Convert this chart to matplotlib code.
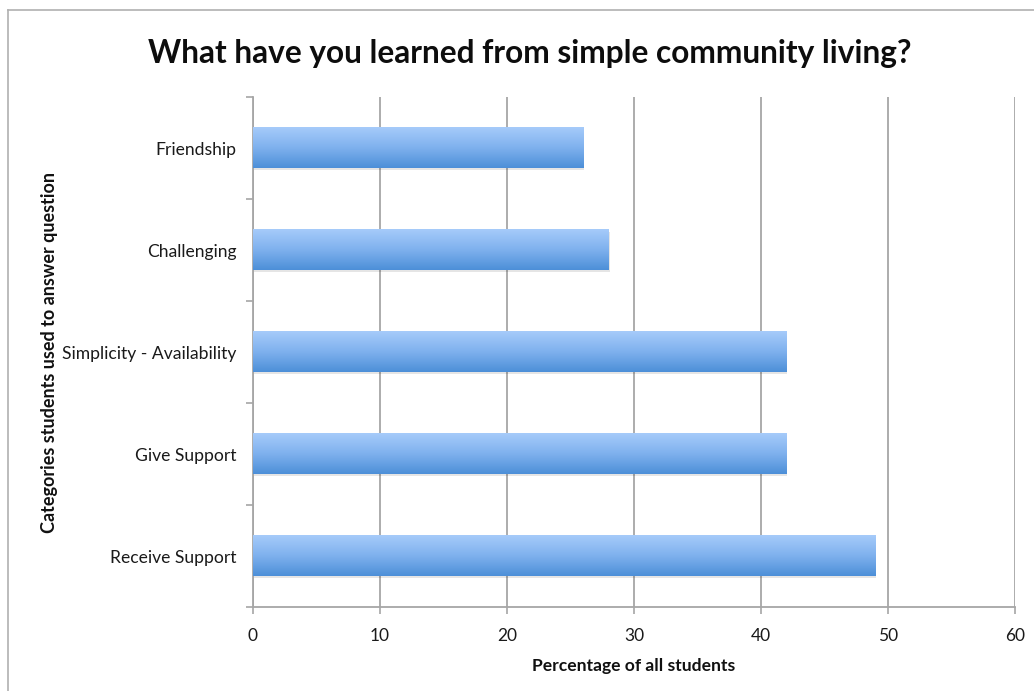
import numpy as np
import matplotlib
matplotlib.use("Agg")
import matplotlib.pyplot as plt
from matplotlib.colors import LinearSegmentedColormap
from matplotlib.lines import Line2D
from matplotlib.patches import Rectangle

categories = ["Receive Support", "Give Support", "Simplicity - Availability",
              "Challenging", "Friendship"]
percentages = [49, 42, 42, 28, 26]
x_ticks = [0, 10, 20, 30, 40, 50, 60]

plt.rcParams['font.family'] = ['Lato', 'DejaVu Sans']

fig = plt.figure(figsize=(10.34, 6.91), dpi=100)
ax = fig.add_axes([253 / 1034, 1 - 607 / 691, 762 / 1034, 510 / 691])

grid_col = "#a6a6a6"
ypos = np.arange(len(categories))
bars = ax.barh(ypos, percentages, height=0.4, color="none", edgecolor="none", zorder=3)

# vertical gradient fill for each bar, plus a faint drop shadow
grad_cmap = LinearSegmentedColormap.from_list("bar", ["#a6cbfa", "#7fb1ee", "#4c8fd8"])
grad = np.linspace(0, 1, 256).reshape(-1, 1)
for b in bars:
    x0, y0 = b.get_x(), b.get_y()
    w, h = b.get_width(), b.get_height()
    ax.add_patch(Rectangle((x0 + 0.08, y0 - 0.02), w, h, facecolor="#000000",
                           alpha=0.10, edgecolor="none", zorder=2))
    ax.imshow(grad, cmap=grad_cmap, aspect="auto", origin="upper",
              extent=(x0, x0 + w, y0, y0 + h), zorder=3, interpolation="bilinear")

ax.set_xlim(0, 60)
ax.set_ylim(-0.5, len(categories) - 0.5)

ax.set_xticks(x_ticks)
ax.set_xticklabels([str(t) for t in x_ticks], fontsize=12.5, color="#1a1a1a")
ax.set_yticks(ypos)
ax.set_yticklabels(categories, fontsize=12.6, color="#1a1a1a")
ax.set_yticks(np.arange(-0.5, len(categories)), minor=True)
ax.tick_params(axis="y", which="major", length=0, pad=12)
ax.tick_params(axis="y", which="minor", length=5, width=1.2, color=grid_col, direction="out")
ax.tick_params(axis="x", which="major", length=5, width=1.2, color=grid_col,
               direction="out", pad=10)

ax.xaxis.grid(True, color=grid_col, linewidth=1.3, zorder=0)
ax.set_axisbelow(True)
for s in ["top", "right"]:
    ax.spines[s].set_visible(False)
for s in ["left", "bottom"]:
    ax.spines[s].set_color(grid_col)
    ax.spines[s].set_linewidth(1.3)

ax.set_xlabel("Percentage of all students", fontsize=12.6, fontweight="bold",
              labelpad=10, color="#111111")
ax.set_ylabel("Categories students used to answer question", fontsize=13,
              fontweight="bold", color="#111111")
ax.yaxis.set_label_coords(-0.256, 0.5)

fig.text(530 / 1034, 1 - 53 / 691, "What have you learned from simple community living?",
         ha="center", va="center", fontsize=22.8, fontweight="bold", color="#0d0d0d")

# chart frame
fig.add_artist(Line2D([8 / 1034, 8 / 1034], [0, 1 - 10 / 691], color="#b0b0b0", lw=1.2))
fig.add_artist(Line2D([8 / 1034, 1], [1 - 10 / 691, 1 - 10 / 691], color="#b0b0b0", lw=1.2))

fig.savefig("out.png", dpi=100, facecolor="white")
